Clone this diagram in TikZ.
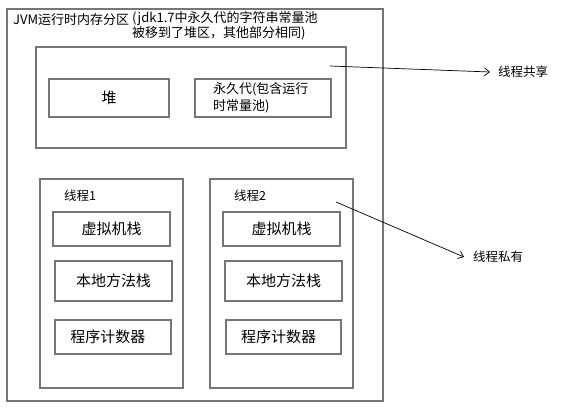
\documentclass[tikz,border=0pt]{standalone}
\usepackage{fontspec}
\setmainfont{Noto Sans CJK SC}
\usetikzlibrary{arrows.meta}
\definecolor{edgegray}{RGB}{118,118,118}

\begin{document}
\begin{tikzpicture}[x=1pt, y=-1pt,
	box/.style={draw=edgegray, line width=1.5pt, inner sep=0pt},
	part/.style={box, font=\fontsize{15}{18}\selectfont},
	note/.style={anchor=west, inner sep=0pt, font=\fontsize{12.5}{15}\selectfont},
	pointer/.style={-{Straight Barb[length=5pt, width=8pt]}, line width=0.7pt}]
	\useasboundingbox (0,0) rectangle (566,409);

	\node[box, minimum width=376, minimum height=392] (jvm) at (195, 205) {};
	\node[note, font=\fontsize{13}{13}\selectfont] (title) at (13, 20) {JVM运行时内存分区};
	\node[note, align=left, font=\fontsize{13}{12.5}\selectfont] (remark) at (132, 26) {(jdk1.7中永久代的字符串常量池\\被移到了堆区，其他部分相同)};

	\node[box, minimum width=310, minimum height=101] (shared) at (191, 97.5) {};
	\node[part, minimum width=120, minimum height=38] (heap) at (109, 98) {堆};
	\node[box, minimum height=38, text width=100, inner xsep=18, align=left, font=\fontsize{13}{17}\selectfont] (perm) at (263, 98) {永久代(包含运行\\时常量池)};

	\node[box, minimum width=143, minimum height=209] (thread1) at (111.5, 283.5) {};
	\node[note] (name1) at (64, 196) {线程1};
	\node[part, minimum width=117, minimum height=34] (vm1) at (111.5, 229) {虚拟机栈};
	\node[part, minimum width=117, minimum height=40] (native1) at (113.5, 281) {本地方法栈};
	\node[part, minimum width=116, minimum height=34] (pc1) at (113, 337) {\hspace*{-10pt}程序计数器};

	\node[box, minimum width=143, minimum height=209] (thread2) at (281.5, 283.5) {};
	\node[note] (name2) at (234, 196) {线程2};
	\node[part, minimum width=117, minimum height=34] (vm2) at (281.5, 229) {虚拟机栈};
	\node[part, minimum width=117, minimum height=40] (native2) at (283.5, 281) {本地方法栈};
	\node[part, minimum width=115, minimum height=34] (pc2) at (283.5, 337) {\hspace*{-10pt}程序计数器};

	\node[note] (sharedtag) at (498, 72) {线程共享};
	\node[note] (privatetag) at (473, 257) {线程私有};
	\coordinate (sharedfrom) at (330, 66);
	\coordinate (privatefrom) at (336, 202);
	\draw[pointer] (sharedfrom) -- ([xshift=-8pt]sharedtag.west);
	\draw[pointer] (privatefrom) -- ([xshift=-9pt]privatetag.west);
\end{tikzpicture}
\end{document}
